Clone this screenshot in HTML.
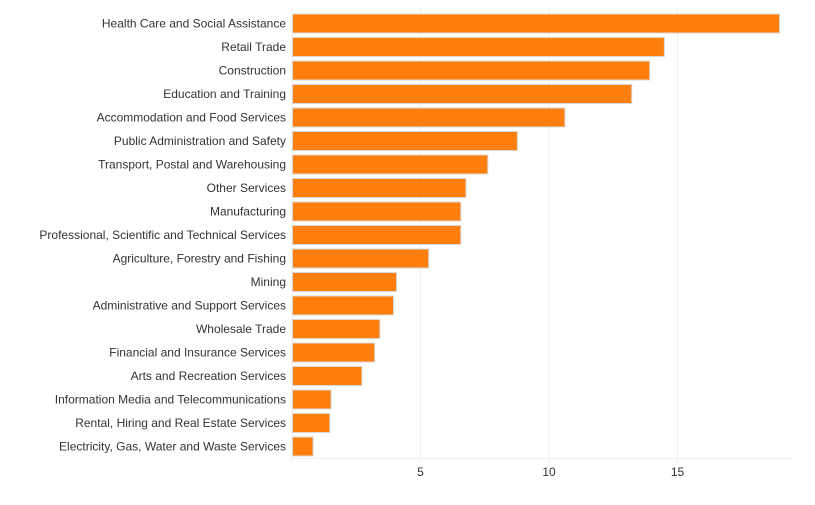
<!DOCTYPE html>
<html><head><meta charset="utf-8"><style>
body{margin:0;background:#fff;font-family:"Liberation Sans",sans-serif}
svg text{font-family:"Liberation Sans",sans-serif}
</style></head><body>
<svg id="chart" width="815" height="500" xmlns="http://www.w3.org/2000/svg"></svg>
<script>
const categories=["Health Care and Social Assistance","Retail Trade","Construction","Education and Training","Accommodation and Food Services","Public Administration and Safety","Transport, Postal and Warehousing","Other Services","Manufacturing","Professional, Scientific and Technical Services","Agriculture, Forestry and Fishing","Mining","Administrative and Support Services","Wholesale Trade","Financial and Insurance Services","Arts and Recreation Services","Information Media and Telecommunications","Rental, Hiring and Real Estate Services","Electricity, Gas, Water and Waste Services"];
const values=[18.95,14.47,13.9,13.2,10.6,8.75,7.6,6.75,6.55,6.55,5.3,4.05,3.93,3.4,3.2,2.7,1.5,1.45,0.8];
const ticks=[5,10,15];
const svg=document.getElementById('chart');
const NS='http://www.w3.org/2000/svg';
const x0=292,pxPer=25.7,y0=23.5,step=23.5,bh=19;
const xs=v=>x0+v*pxPer;
const ys=i=>y0+i*step;
function mk(t,a){const e=document.createElementNS(NS,t);for(const k in a)e.setAttribute(k,a[k]);svg.appendChild(e);return e;}
ticks.forEach(t=>{
const g=mk('line',{x1:xs(t),x2:xs(t),y1:8,y2:462,stroke:'#eeeeee','stroke-width':1});


const l=mk('text',{x:xs(t),y:476,'text-anchor':'middle','font-size':12,fill:'#333'});
l.textContent=t;


});
const ax=mk('line',{x1:x0,x2:792,y1:458.5,y2:458.5,stroke:'#eeeeee','stroke-width':1});


const ay=mk('line',{x1:x0,x2:x0,y1:8,y2:462,stroke:'#eeeeee','stroke-width':1});


categories.forEach((c,i)=>{
const r=mk('rect',{x:x0+0.5,y:ys(i)-bh/2,width:Math.max(0,xs(values[i])-x0),height:bh,fill:'#ff7f0e',stroke:'#d8d8d8','stroke-width':1});


const t=mk('text',{x:286,y:ys(i)+4,'text-anchor':'end','font-size':12,fill:'#333'});
t.textContent=c;


});
</script>
</body></html>
